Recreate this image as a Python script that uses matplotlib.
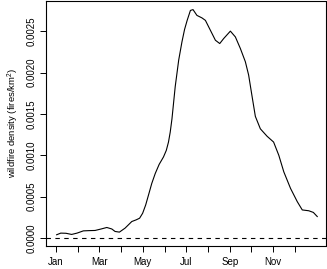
import numpy as np
import matplotlib
matplotlib.use("Agg")
import matplotlib.pyplot as plt

plt.rcParams['font.family'] = ['Liberation Sans', 'DejaVu Sans']
plt.rcParams['mathtext.fontset'] = 'custom'
plt.rcParams['mathtext.rm'] = 'Liberation Sans'
plt.rcParams['mathtext.it'] = 'Liberation Sans:italic'

# month position (1 = Jan) and density values
month = [1.03, 1.22, 1.46, 1.72, 1.97, 2.26, 2.52, 2.80, 3.08, 3.34, 3.57, 3.72,
         3.92, 4.18, 4.49, 4.69, 4.85, 4.99, 5.13, 5.26, 5.41, 5.57, 5.75, 5.95,
         6.08, 6.18, 6.26, 6.34, 6.49, 6.65, 6.80, 6.92, 7.04, 7.19, 7.31, 7.49,
         7.72, 7.88, 8.11, 8.34, 8.54, 8.72, 9.03, 9.26, 9.49, 9.72, 9.87, 10.03,
         10.18, 10.41, 10.72, 11.02, 11.26, 11.49, 11.80, 12.11, 12.34, 12.64,
         12.85, 13.03]
density = [0.00004, 0.00006, 0.000058, 0.000044, 0.00006, 0.000087, 0.00009, 0.000092,
           0.00011, 0.000128, 0.00011, 0.00008, 0.000072, 0.00012, 0.0002, 0.00022,
           0.00024, 0.0003, 0.0004, 0.00052, 0.00066, 0.00078, 0.00089, 0.00098,
           0.00106, 0.00116, 0.00128, 0.00144, 0.00183, 0.00215, 0.00237, 0.00252,
           0.00263, 0.00275, 0.00276, 0.00269, 0.00266, 0.00263, 0.00251, 0.00239,
           0.00235, 0.00241, 0.0025, 0.00243, 0.00229, 0.00213, 0.00197, 0.00171,
           0.00147, 0.00132, 0.00123, 0.00116, 0.001, 0.0008, 0.0006, 0.00044,
           0.00034, 0.00033, 0.00031, 0.00026]

tick_months = list(range(1, 13))
tick_labels = ['Jan', '', 'Mar', '', 'May', '', 'Jul', '', 'Sep', '', 'Nov', '']
yticks = [0.0, 0.0005, 0.0010, 0.0015, 0.0020, 0.0025]

fig = plt.figure(figsize=(3.27, 2.69), dpi=100)
ax = fig.add_axes([46/327, 23/269, 279.5/327, 245.5/269])

ax.plot(month, density, color='black', lw=0.8, solid_joinstyle='round')
ax.axhline(0, color='black', lw=0.8, ls=(0, (4, 4)))

ax.set_xlim(0.54, 13.41)
ax.set_ylim(-0.0000957, 0.00287)

ax.set_xticks(tick_months)
ax.set_xticklabels(tick_labels)
ax.set_yticks(yticks)
ax.set_yticklabels(['%.4f' % v for v in yticks], rotation=90, va='center')
ax.tick_params(axis='both', direction='out', length=4, width=0.7, labelsize=7)
ax.tick_params(axis='x', pad=4)
ax.tick_params(axis='y', pad=2.5)

for s in ax.spines.values():
    s.set_linewidth(0.8)

ax.set_ylabel('wildfire density (fires/km$^2$)', fontsize=6.8, labelpad=4.5)

fig.savefig('out.png', dpi=100)
